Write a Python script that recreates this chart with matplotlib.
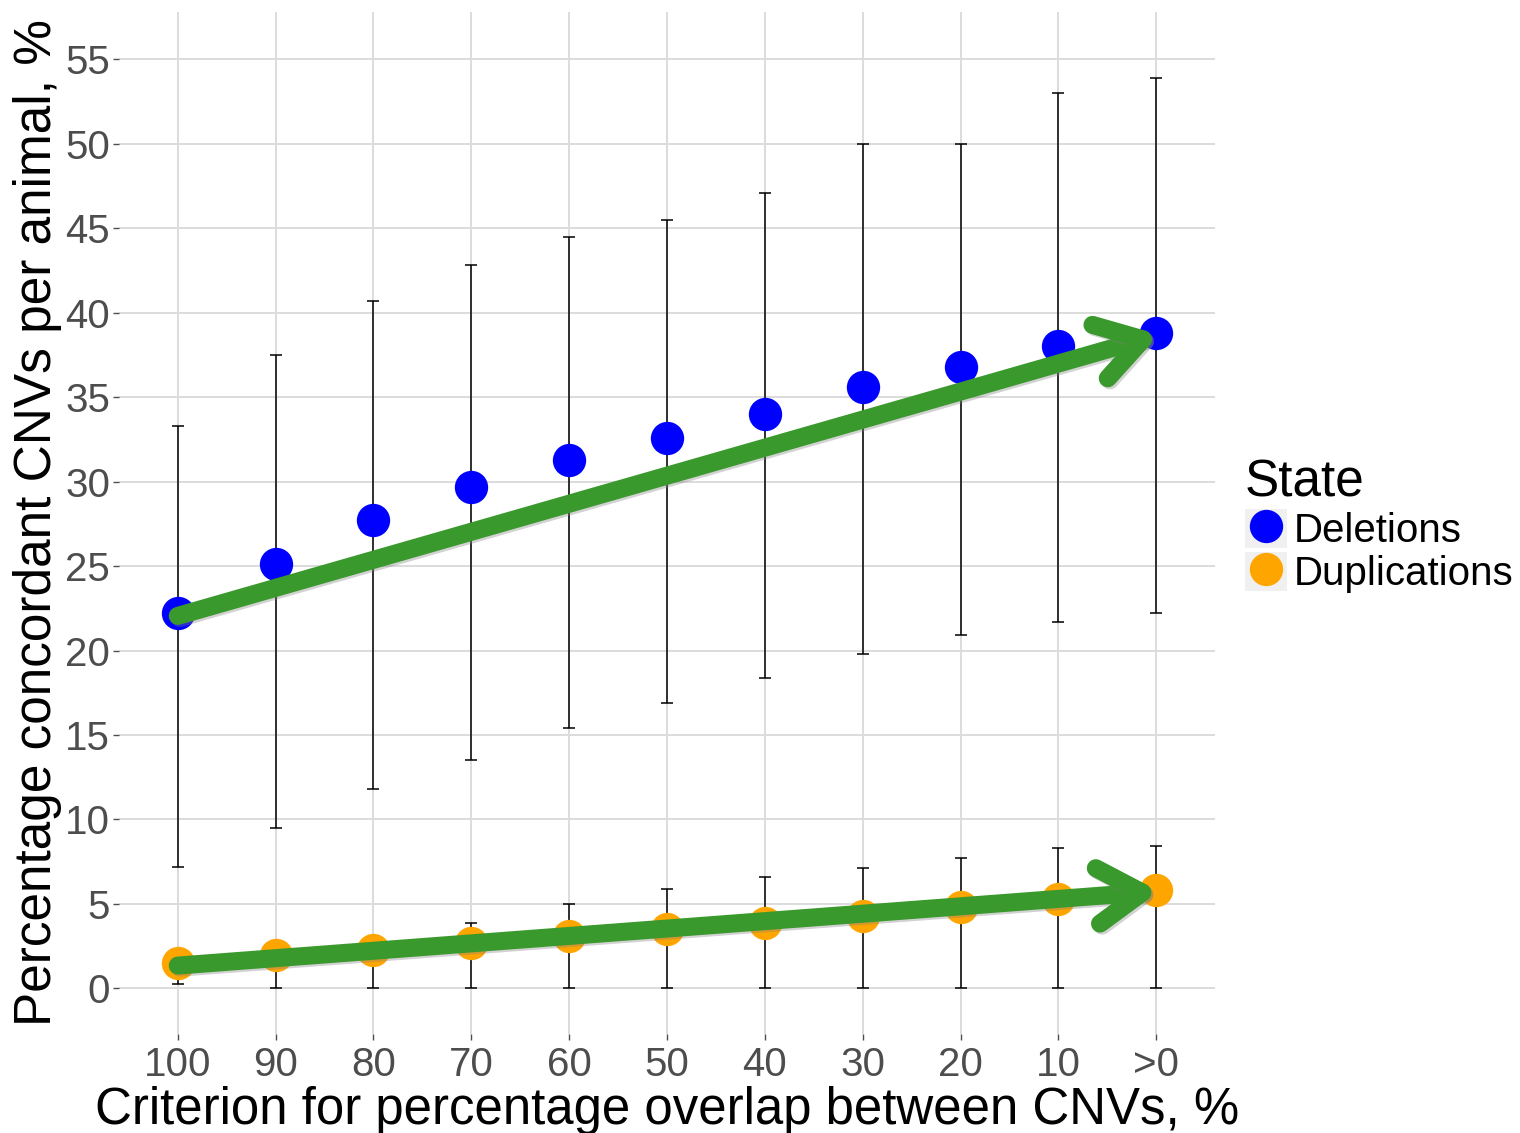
import matplotlib
matplotlib.use("Agg")
import matplotlib.pyplot as plt
from matplotlib.lines import Line2D
from matplotlib.patches import Rectangle, FancyArrowPatch
from matplotlib.legend_handler import HandlerTuple
import matplotlib.patheffects as pe
import numpy as np

plt.rcParams['font.family'] = ['Liberation Sans', 'DejaVu Sans']

categories = ["100", "90", "80", "70", "60", "50", "40", "30", "20", "10", ">0"]

del_mean = [22.2, 25.1, 27.7, 29.7, 31.3, 32.6, 34.0, 35.6, 36.8, 38.0, 38.8]
del_low = [7.2, 9.5, 11.8, 13.5, 15.4, 16.9, 18.4, 19.8, 20.9, 21.7, 22.2]
del_high = [33.3, 37.5, 40.7, 42.8, 44.5, 45.5, 47.1, 50.0, 50.0, 53.0, 53.9]

dup_mean = [1.5, 1.95, 2.3, 2.7, 3.1, 3.5, 3.9, 4.3, 4.8, 5.3, 5.85]
dup_low = [0.25, 0.0, 0.0, 0.0, 0.0, 0.0, 0.0, 0.0, 0.0, 0.0, 0.0]
dup_high = [2.2, 2.7, 2.9, 3.85, 5.0, 5.9, 6.6, 7.1, 7.7, 8.3, 8.4]

y_ticks = [0, 5, 10, 15, 20, 25, 30, 35, 40, 45, 50, 55]

BLUE = "#0000FF"
ORANGE = "#FFA500"
GREEN = "#3A992D"

fig = plt.figure(figsize=(15.2, 11.33), dpi=100)
ax = fig.add_axes([119/1520, 1 - 1034/1133, (1215-119)/1520, (1034-12)/1133])

x = np.arange(len(categories))

ax.set_xlim(-0.6, len(categories) - 0.4)
ax.set_ylim(-2.7, 57.8)

for s in ax.spines.values():
    s.set_visible(False)
ax.set_axisbelow(True)
ax.grid(True, color="#DCDCDC", lw=1.4)
ax.set_xticks(x)
ax.set_xticklabels(categories)
ax.set_yticks(y_ticks)
ax.tick_params(axis='both', colors="#4D4D4D", labelsize=29, length=4.3, width=1.0)
ax.tick_params(axis='y', pad=2)
ax.tick_params(axis='x', pad=4)
for t in ax.get_xticklabels() + ax.get_yticklabels():
    t.set_color("#4D4D4D")

def draw_series(mean, low, high, color, label):
    m = np.array(mean)
    yerr = np.vstack([m - np.array(low), np.array(high) - m])
    ax.errorbar(x, m, yerr=yerr, fmt='none', ecolor='black', elinewidth=1.1,
                capsize=4.3, capthick=1.1, zorder=2)
    ax.plot(x, m, 'o', color=color, markersize=24, markeredgewidth=0, zorder=3, label=label)

draw_series(del_mean, del_low, del_high, BLUE, "Deletions")
draw_series(dup_mean, dup_low, dup_high, ORANGE, "Duplications")

# trend arrows
for mean in (del_mean, dup_mean):
    arr = FancyArrowPatch((x[0], mean[0] - 0.15), (x[-1] + 0.03, mean[-1] - 0.1),
                          arrowstyle="->,head_length=3.2,head_width=2.0",
                          mutation_scale=10, lw=13, color=GREEN,
                          capstyle='round', joinstyle='round', zorder=4,
                          shrinkA=0, shrinkB=0)
    arr.set_path_effects([pe.SimpleLineShadow(offset=(1.5, -1.5), shadow_color='gray', alpha=0.35),
                          pe.Normal()])
    ax.add_patch(arr)

ax.set_xlabel("Criterion for percentage overlap between CNVs, %", fontsize=36.7, color='black')
ax.set_ylabel("Percentage concordant CNVs per animal, %", fontsize=37, color='black')
ax.xaxis.set_label_coords(0.5, -0.051)
ax.xaxis.label.set_va('top')
ax.yaxis.set_label_coords(-0.052, 0.5)

# legend
h1 = (Rectangle((0, 0), 1, 1, facecolor="#F0F0F0", edgecolor='none'),
      Line2D([], [], marker='o', color=BLUE, markersize=24, lw=0, markeredgewidth=0))
h2 = (Rectangle((0, 0), 1, 1, facecolor="#F0F0F0", edgecolor='none'),
      Line2D([], [], marker='o', color=ORANGE, markersize=24, lw=0, markeredgewidth=0))
leg = fig.legend([h1, h2], ["Deletions", "Duplications"],
                 handler_map={tuple: HandlerTuple(ndivide=1, pad=0)},
                 loc='upper left', bbox_to_anchor=(1245/1520, 1 - 458/1133),
                 frameon=False, fontsize=29, title="State", title_fontsize=37,
                 handlelength=1.05, handleheight=1.1, handletextpad=0.15,
                 labelspacing=0.05, borderpad=0, borderaxespad=0, alignment='left')

fig.savefig("out.png", dpi=100)
